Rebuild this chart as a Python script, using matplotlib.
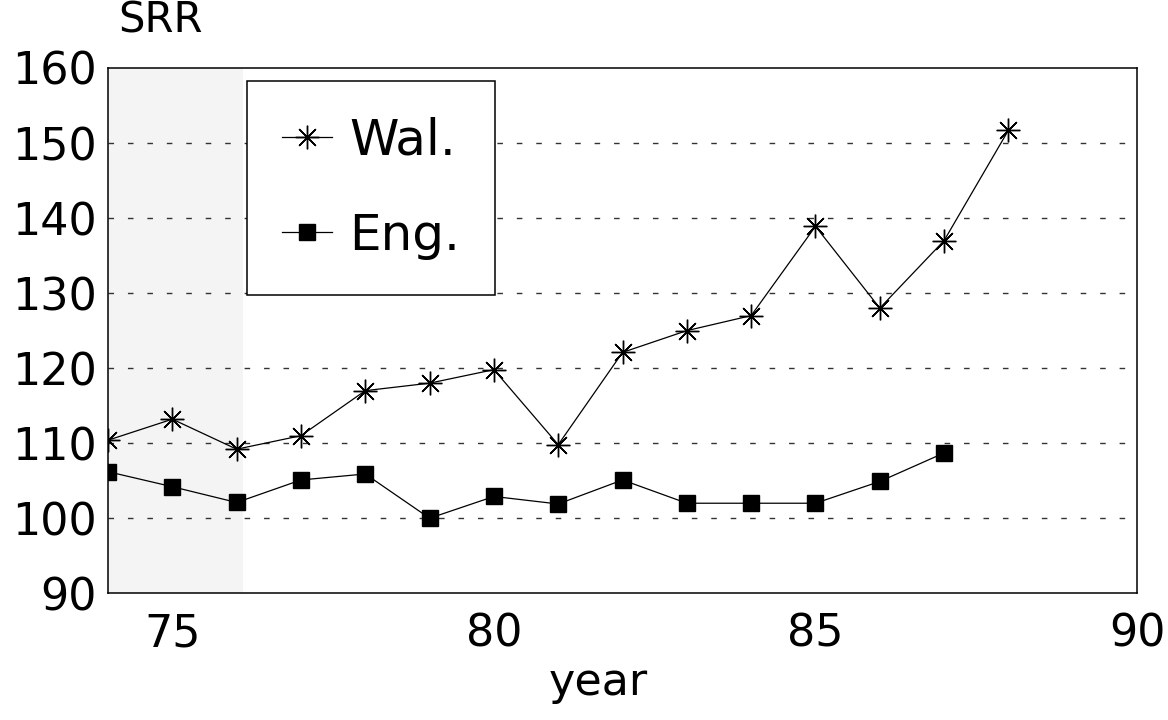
import matplotlib
matplotlib.use("Agg")
import matplotlib.pyplot as plt

# values
years_wal = [74, 75, 76, 77, 78, 79, 80, 81, 82, 83, 84, 85, 86, 87, 88]
srr_wal = [110.4, 113.2, 109.2, 111.0, 117.0, 118.0, 119.8, 109.8,
           122.1, 125.0, 127.0, 138.9, 128.0, 137.0, 151.7]

years_eng = [74, 75, 76, 77, 78, 79, 80, 81, 82, 83, 84, 85, 86, 87]
srr_eng = [106.2, 104.2, 102.1, 105.1, 105.9, 100.0, 102.9, 101.9,
           105.1, 102.0, 102.0, 102.0, 104.9, 108.7]

x_ticks = [75, 80, 85, 90]
y_ticks = [90, 100, 110, 120, 130, 140, 150, 160]
grid_levels = [100, 110, 120, 130, 140, 150]

plt.rcParams['font.family'] = ['DejaVu Sans']

fig = plt.figure(figsize=(11.68, 7.2), dpi=100)
ax = fig.add_axes([0.0925, 0.176, 0.881, 0.7296])

# faint stippled band of the scan at the left edge
ax.axvspan(74, 76.1, color='#f4f4f4', zorder=0, lw=0)

for g in grid_levels:
    ax.axhline(g, color='#333333', lw=1.0, linestyle=(0, (4, 10)), zorder=1)

ax.plot(years_wal, srr_wal, color='black', lw=0.9, marker=(8, 2, 0),
        markersize=17, markeredgewidth=1.0, label='Wal.', zorder=3)
ax.plot(years_eng, srr_eng, color='black', lw=0.9, marker='s',
        markersize=11, label='Eng.', zorder=3)

ax.set_xlim(74, 90)
ax.set_ylim(90, 160)
ax.set_xticks(x_ticks)
ax.set_yticks(y_ticks)
ax.tick_params(axis='both', length=0, labelsize=32)
ax.tick_params(axis='y', pad=8)
ax.tick_params(axis='x', pad=14)

for s in ax.spines.values():
    s.set_linewidth(1.1)
    s.set_color('black')

leg = ax.legend(loc='upper left', bbox_to_anchor=(0.135, 0.975),
                borderaxespad=0, fontsize=36, handlelength=1.0,
                handletextpad=0.35, labelspacing=0.95, borderpad=0.7,
                fancybox=False, framealpha=1, edgecolor='black')
leg.get_frame().set_linewidth(1.1)

fig.text(0.101, 0.972, 'SRR', fontsize=30, ha='left', va='center')
fig.text(0.512, 0.052, 'year', fontsize=32, ha='center', va='center')

fig.savefig('out.png', dpi=100)
